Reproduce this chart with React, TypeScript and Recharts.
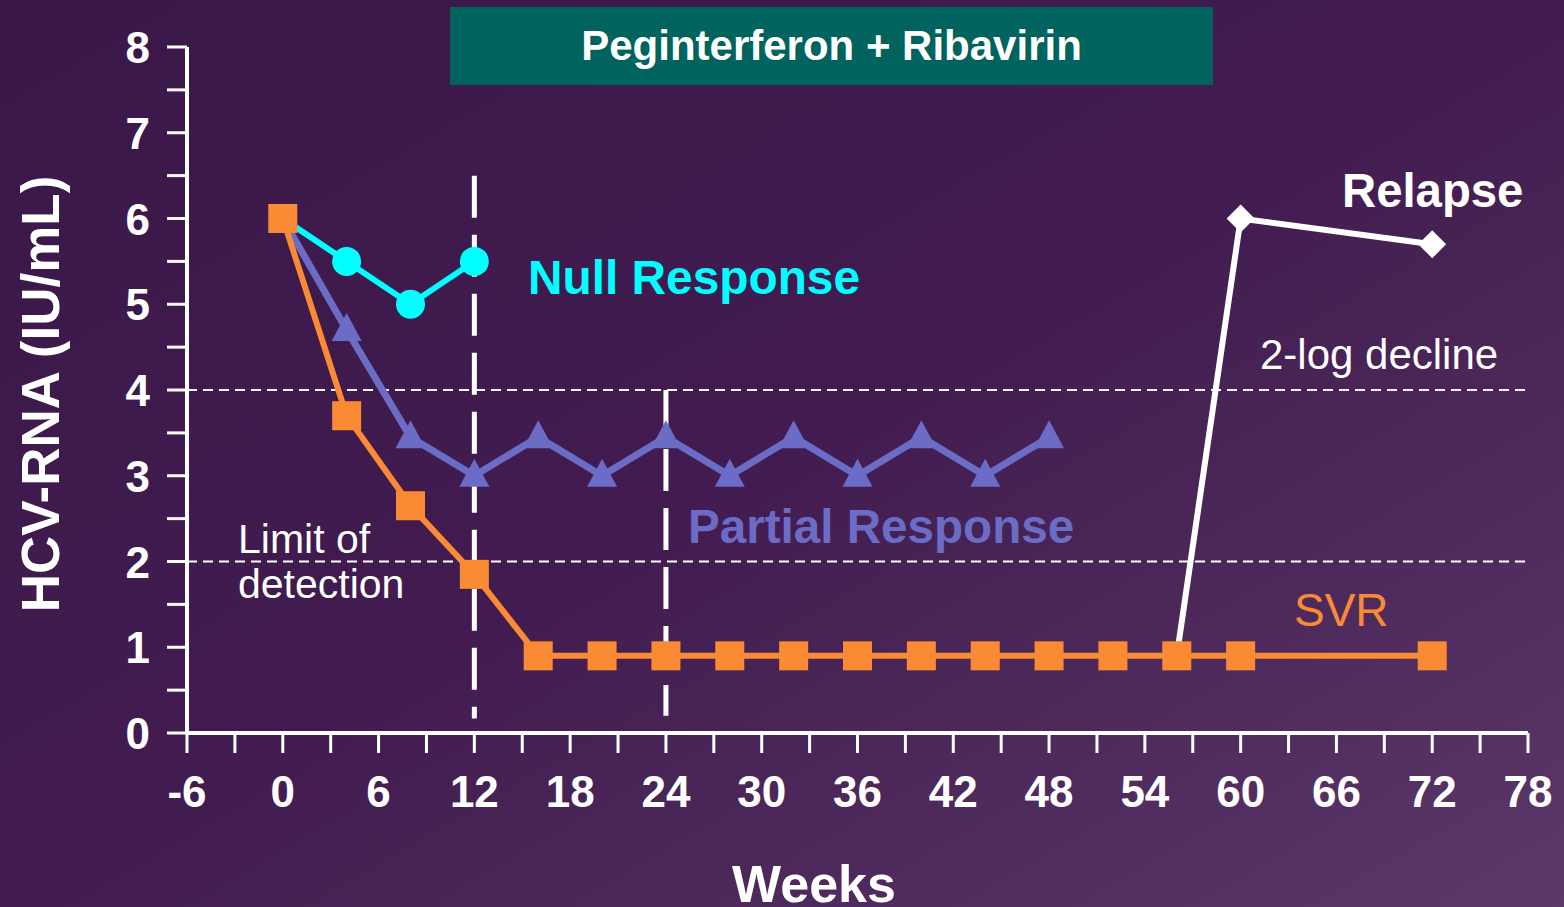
import React from 'react';
import { LineChart, Line, XAxis, YAxis, ReferenceLine } from 'recharts';

// weeks on treatment / follow-up
const svrWeeks = [0, 4, 8, 12, 16, 20, 24, 28, 32, 36, 40, 44, 48, 52, 56, 60, 72];
const svrValues = [6, 3.7, 2.65, 1.85, 0.9, 0.9, 0.9, 0.9, 0.9, 0.9, 0.9, 0.9, 0.9, 0.9, 0.9, 0.9, 0.9];

const nullWeeks = [0, 4, 8, 12];
const nullValues = [6, 5.5, 5.0, 5.5];

const partialWeeks = [0, 4, 8, 12, 16, 20, 24, 28, 32, 36, 40, 44, 48];
const partialValues = [6, 4.7, 3.45, 3.0, 3.45, 3.0, 3.45, 3.0, 3.45, 3.0, 3.45, 3.0, 3.45];

const relapseWeeks = [56, 60, 72];
const relapseValues = [0.9, 6, 5.7];

const xTicks = [-6, -3, 0, 3, 6, 9, 12, 15, 18, 21, 24, 27, 30, 33, 36, 39, 42, 45, 48, 51, 54, 57, 60, 63, 66, 69, 72, 75, 78];
const yTicks = [0, 0.5, 1, 1.5, 2, 2.5, 3, 3.5, 4, 4.5, 5, 5.5, 6, 6.5, 7, 7.5, 8];

const toPoints = (weeks: number[], values: number[]) =>
  weeks.map((w, i) => ({ w, v: values[i] }));

const svrData = toPoints(svrWeeks, svrValues);
const nullData = toPoints(nullWeeks, nullValues);
const partialData = toPoints(partialWeeks, partialValues);
const relapseData = toPoints(relapseWeeks, relapseValues);

const ORANGE = '#FB8A35';
const CYAN = '#00FFFF';
const PURPLE = '#6A6CC5';
const WHITE = '#FFFFFF';
const FONT = '"Liberation Sans", Arial, sans-serif';

const SquareDot = (p: any) => (
  <rect key={`sq-${p.index}`} x={p.cx - 14.5} y={p.cy - 14.5} width={29} height={29} fill={ORANGE} />
);

const CircleDot = (p: any) =>
  p.index === 0 ? <g key={`c-${p.index}`} /> : (
    <circle key={`c-${p.index}`} cx={p.cx} cy={p.cy} r={14.5} fill={CYAN} />
  );

const TriangleDot = (p: any) =>
  p.index === 0 ? <g key={`t-${p.index}`} /> : (
    <polygon
      key={`t-${p.index}`}
      points={`${p.cx},${p.cy - 17} ${p.cx - 15},${p.cy + 11} ${p.cx + 15},${p.cy + 11}`}
      fill={PURPLE}
    />
  );

const DiamondDot = (p: any) =>
  p.index === 0 ? <g key={`d-${p.index}`} /> : (
    <polygon
      key={`d-${p.index}`}
      points={`${p.cx},${p.cy - 14} ${p.cx + 14},${p.cy} ${p.cx},${p.cy + 14} ${p.cx - 14},${p.cy}`}
      fill={WHITE}
    />
  );

const XTick = (p: any) => {
  const v = p.payload.value;
  if (v % 6 !== 0) return <g />;
  return (
    <text x={p.x} y={807} textAnchor="middle" fill={WHITE} fontSize={44} fontWeight="bold" fontFamily={FONT}>
      {v}
    </text>
  );
};

const YTick = (p: any) => {
  const v = p.payload.value;
  if (v % 1 !== 0) return <g />;
  return (
    <text x={150} y={p.y + 16} textAnchor="end" fill={WHITE} fontSize={44} fontWeight="bold" fontFamily={FONT}>
      {v}
    </text>
  );
};

const note = (left: number, top: number, size: number, color: string, bold: boolean): React.CSSProperties => ({
  position: 'absolute',
  left,
  top,
  fontSize: size,
  lineHeight: `${size}px`,
  color,
  fontWeight: bold ? 'bold' : 'normal',
  fontFamily: FONT,
  whiteSpace: 'nowrap',
});

export default function App() {
  return (
    <div
      style={{
        position: 'absolute',
        left: 0,
        top: 0,
        width: 1564,
        height: 907,
        overflow: 'hidden',
        background: 'linear-gradient(to bottom right, #3a1749 0%, #421c50 50%, #5a3868 100%)',
        fontFamily: FONT,
      }}
    >
      <div
        style={{
          position: 'absolute',
          left: 450,
          top: 7,
          width: 763,
          height: 78,
          background: '#00635E',
          color: WHITE,
          fontWeight: 'bold',
          fontSize: 42,
          display: 'flex',
          alignItems: 'center',
          justifyContent: 'center',
        }}
      >
        Peginterferon + Ribavirin
      </div>

      <LineChart width={1564} height={907} margin={{ top: 47, right: 36, left: 127, bottom: 114 }}>
        <XAxis
          dataKey="w"
          type="number"
          domain={[-6, 78]}
          ticks={xTicks}
          interval={0}
          allowDataOverflow
          height={60}
          tickSize={20}
          axisLine={{ stroke: WHITE, strokeWidth: 4 }}
          tickLine={{ stroke: WHITE, strokeWidth: 3 }}
          tick={<XTick />}
        />
        <YAxis
          type="number"
          domain={[0, 8]}
          ticks={yTicks}
          interval={0}
          width={60}
          tickSize={20}
          axisLine={{ stroke: WHITE, strokeWidth: 4 }}
          tickLine={{ stroke: WHITE, strokeWidth: 3 }}
          tick={<YTick />}
        />
        <ReferenceLine y={4} stroke={WHITE} strokeWidth={2} strokeDasharray="10 6" />
        <ReferenceLine y={2} stroke={WHITE} strokeWidth={2} strokeDasharray="10 6" />
        <Line
          data={partialData}
          dataKey="v"
          stroke={PURPLE}
          strokeWidth={7}
          dot={TriangleDot}
          activeDot={false}
          isAnimationActive={false}
        />
        <ReferenceLine
          segment={[{ x: 12, y: 6.5 }, { x: 12, y: 0.17 }]}
          stroke={WHITE}
          strokeWidth={5}
          strokeDasharray="42 17"
        />
        <ReferenceLine
          segment={[{ x: 24, y: 4.0 }, { x: 24, y: 0.2 }]}
          stroke={WHITE}
          strokeWidth={5}
          strokeDasharray="42 17"
        />
        <Line
          data={svrData}
          dataKey="v"
          stroke={ORANGE}
          strokeWidth={6}
          dot={SquareDot}
          activeDot={false}
          isAnimationActive={false}
        />
        <Line
          data={nullData}
          dataKey="v"
          stroke={CYAN}
          strokeWidth={6}
          dot={CircleDot}
          activeDot={false}
          isAnimationActive={false}
        />
        <Line
          data={relapseData}
          dataKey="v"
          stroke={WHITE}
          strokeWidth={6}
          dot={DiamondDot}
          activeDot={false}
          isAnimationActive={false}
        />
      </LineChart>

      <div style={note(528, 254, 47.8, CYAN, true)}>Null Response</div>
      <div style={note(688, 503, 47.6, PURPLE, true)}>Partial Response</div>
      <div style={note(1342, 167, 47.3, WHITE, true)}>Relapse</div>
      <div style={note(1294, 587, 46, ORANGE, false)}>SVR</div>
      <div style={note(1260, 334, 42, WHITE, false)}>2-log decline</div>
      <div style={{ ...note(238, 517, 41, WHITE, false), lineHeight: '45px' }}>
        Limit of
        <br />
        detection
      </div>
      <div
        style={{
          ...note(40, 394, 53, WHITE, true),
          transform: 'translate(-50%, -50%) rotate(-90deg)',
        }}
      >
        HCV-RNA (IU/mL)
      </div>
      <div style={{ ...note(0, 858, 52, WHITE, true), width: 1628, textAlign: 'center' }}>Weeks</div>
    </div>
  );
}
